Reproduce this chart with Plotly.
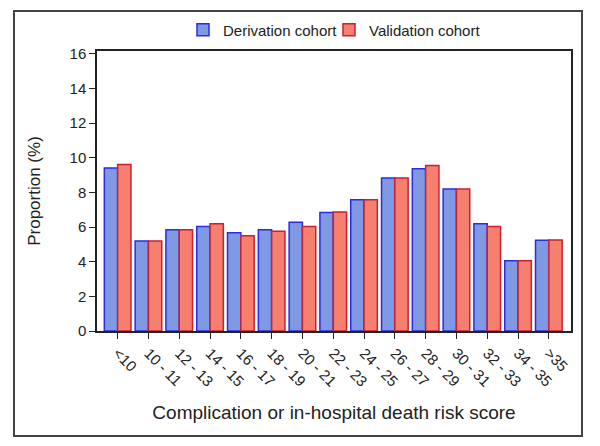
import plotly.graph_objects as go

categories = ["<10", "10 - 11", "12 - 13", "14 - 15", "16 - 17", "18 - 19", "20 - 21",
              "22 - 23", "24 - 25", "26 - 27", "28 - 29", "30 - 31", "32 - 33", "34 - 35", ">35"]
derivation = [9.41, 5.2, 5.84, 6.03, 5.67, 5.84, 6.28, 6.85, 7.58, 8.84, 9.37, 8.2, 6.19, 4.05, 5.24]
validation = [9.62, 5.2, 5.84, 6.19, 5.5, 5.76, 6.03, 6.87, 7.58, 8.84, 9.56, 8.2, 6.03, 4.05, 5.26]
y_ticks = [0, 2, 4, 6, 8, 10, 12, 14, 16]

FONT = "Liberation Sans, Arial, sans-serif"
TXT = "#222222"

fig = go.Figure()
fig.add_trace(go.Bar(x=list(range(len(categories))), y=derivation, name="Derivation cohort",
                     legendwidth=101,
                     marker=dict(color="#7F9AE2", line=dict(color="#2B2BE6", width=1.5))))
fig.add_trace(go.Bar(x=list(range(len(categories))), y=validation, name="Validation cohort",
                     legendwidth=118,
                     marker=dict(color="#F5806F", line=dict(color="#CC1F30", width=1.5))))

# page body has an 8px margin, so the figure is sized and positioned accordingly
OFF = 8
W, H = 600 - OFF, 446 - OFF
L, R, T, B = 97 - OFF, 600 - 571, 51 - OFF, 446 - 331
pw, ph = W - L - R, H - T - B

def px_x(x):
    return (x - OFF - L) / pw

def px_y(y):
    return (H - B - (y - OFF)) / ph

fig.add_shape(type="rect", xref="paper", yref="paper",
              x0=px_x(14), x1=px_x(582), y0=px_y(436), y1=px_y(11),
              line=dict(color="#444444", width=2), fillcolor="rgba(0,0,0,0)")

fig.update_layout(
    width=W, height=H,
    margin=dict(l=L, r=R, t=T, b=B, autoexpand=False),
    paper_bgcolor="white", plot_bgcolor="white",
    barmode="group", bargap=0.136, bargroupgap=0,
    font=dict(family=FONT, color=TXT, size=15),
    showlegend=True,
    legend=dict(orientation="h", x=px_x(183), xanchor="left", y=px_y(30), yanchor="middle",
                font=dict(size=15, color=TXT), itemwidth=30, traceorder="normal",
                entrywidthmode="pixels",
                bgcolor="rgba(0,0,0,0)"),
    xaxis=dict(range=[-0.67, 14.72], tickmode="array", tickvals=list(range(len(categories))),
               ticktext=categories, tickangle=45, ticks="outside", ticklen=6, tickwidth=1,
               tickcolor="#222222", showline=True, linecolor="#222222", linewidth=1.5,
               mirror=True, showgrid=False, zeroline=False, automargin=False,
               tickfont=dict(size=15, color=TXT),
               title=dict(text="Complication or in-hospital death risk score",
                          font=dict(size=19, color=TXT), standoff=17)),
    yaxis=dict(range=[0, 16.17], tickmode="array", tickvals=y_ticks,
               ticks="outside", ticklen=6, tickwidth=1, tickcolor="#222222",
               showline=True, linecolor="#222222", linewidth=1.5, mirror=True,
               showgrid=False, zeroline=False, automargin=False,
               tickfont=dict(size=15, color=TXT),
               title=dict(text="Proportion (%)", font=dict(size=17, color=TXT), standoff=25)),
)

fig.write_html("out.html")
